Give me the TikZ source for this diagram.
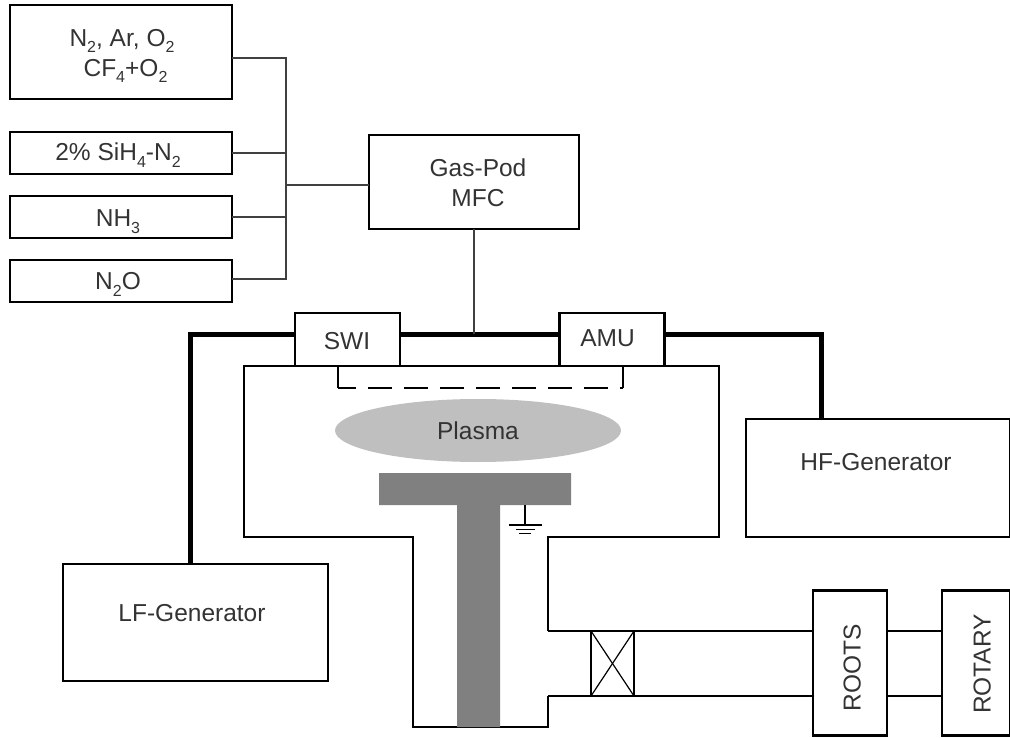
\documentclass[tikz,border=0pt]{standalone}
\usepackage{fontspec}
\setmainfont{Liberation Sans}
\usetikzlibrary{positioning,shapes.geometric}
\newcommand{\gassub}[1]{\raisebox{-0.28em}{\fontsize{16}{16}\selectfont #1}}

\begin{document}
\begin{tikzpicture}[x=1pt,y=-1pt,
  blk/.style={draw,line width=2.2pt,outer sep=0pt,inner sep=0pt},
  gasblk/.style={blk,minimum width=222pt,minimum height=42pt},
  gen/.style={blk,minimum width=264pt,minimum height=118pt},
  pump/.style={blk,minimum width=74pt,minimum height=145pt},
  port/.style={blk,minimum width=105pt,minimum height=53pt,fill=white},
  txt/.style={inner sep=0pt,font=\fontsize{24.5}{30}\selectfont,align=center,text=black!80},
  lbl/.style={txt,text height=17pt,text depth=0pt},
  wall/.style={line width=2.2pt},
  thin wall/.style={line width=1.2pt},
  rf/.style={line width=5pt},
  gasline/.style={line width=1.3pt,black!75}]
  \useasboundingbox (0,0) rectangle (1010,738);

  % gas supply
  \node[gasblk,minimum height=94pt] (mix) at (121,52) {};
  \node[gasblk,below=33pt of mix]   (sih) {};
  \node[gasblk,below=22pt of sih]   (nh)  {};
  \node[gasblk,below=22pt of nh]    (no)  {};
  \node[blk,minimum width=210pt,minimum height=94pt] (pod) at (474,182) {};
  \node[txt] (mixtxt) at (122,56) {N\gassub{2}, Ar, O\gassub{2}\\\hspace*{7pt}CF\gassub{4}+O\gassub{2}};
  \node[lbl] (sihtxt) at (118,152) {2\% SiH\gassub{4}-N\gassub{2}};
  \node[lbl] (nhtxt)  at (118,218) {NH\gassub{3}};
  \node[lbl] (notxt)  at (118,281) {N\gassub{2}O};
  \node[txt] (podtxt) at (478,183) {Gas-Pod\\MFC};
  \coordinate (bus) at (286,185);
  \foreach \a/\d in {mix/-6,sih/0,nh/0,no/2}
    \draw[gasline] ([yshift=\d pt]\a.east) -| (bus);
  \draw[gasline] (bus) -- (bus -| pod.west);

  % chamber and pumping line
  \node[lbl,fill=black!25,ellipse,minimum width=286pt,minimum height=63pt] (plasma) at (478,430.5) {Plasma};
  \draw[wall] (548,631) -- (548,537) -- (719,537) -- (719,366) -- (244,366)
    -- (244,537) -- (413,537) -- (413,727) -- (548,727) -- (548,696);
  \draw[wall] (338,366) -- (338,388);
  \draw[wall] (623,366) -- (623,388);
  \draw[wall,dash pattern=on 24pt off 12pt,dash phase=6pt] (338,388) -- (623,388);
  \fill[black!50] (379,473) rectangle (571,505) (457,505) rectangle (500,727);

  % ground
  \coordinate (gnd) at (525,505);
  \draw[thin wall] (gnd) -- (525,525);
  \draw[thin wall] (509,525) -- (542,525);
  \draw[thin wall] (516,529.5) -- (535,529.5);
  \draw[thin wall] (519,533.5) -- (531,533.5);

  % matching units and generators
  \node[port] (swi) at (347.5,339.5) {};
  \node[port] (amu) at (612,339.5) {};
  \node[gen] (hf) at (878,478) {};
  \node[gen,minimum width=265pt,minimum height=117pt] (lf) at (195.5,622.5) {};
  \node[lbl] (switxt) at (347,341) {SWI};
  \node[lbl] (amutxt) at (607.5,338) {AMU};
  \node[lbl] (hftxt) at (876,462) {HF-Generator};
  \node[lbl] (lftxt) at (192,613) {LF-Generator};
  \coordinate (rfl) at (190,334);
  \coordinate (rfr) at (821,334);
  \draw[rf] (lf.north -| rfl) -- (rfl) -- (swi.west |- rfl);
  \draw[rf] (swi.east |- rfl) -- (amu.west |- rfl);
  \draw[rf] (amu.east |- rfl) -- (rfr) -- (rfr |- hf.north);
  \draw[gasline] (pod.south) -- (pod.south |- rfl);

  % pumps
  \node[pump] (roots) at (850,663) {};
  \node[pump,minimum width=68pt] (rotary) at (976,663) {};
  \node[lbl,rotate=90] (rootstxt) at (852,667.5) {ROOTS};
  \node[lbl,rotate=90] (rotarytxt) at (982,664) {ROTARY};
  \node[wall,draw,minimum width=43pt,minimum height=65pt,inner sep=0pt,outer sep=0pt] (valve) at (612.5,663.5) {};
  \draw[thin wall] (valve.north west) -- (valve.south east);
  \draw[thin wall] (valve.north east) -- (valve.south west);
  \draw[wall] (548,631) -- (valve.north west);
  \draw[wall] (548,696) -- (valve.south west);
  \foreach \a/\b in {valve/roots,roots/rotary} {
    \draw[wall] (\a.east |- valve.north) -- (\b.west |- valve.north);
    \draw[wall] (\a.east |- valve.south) -- (\b.west |- valve.south);
  }
\end{tikzpicture}
\end{document}
